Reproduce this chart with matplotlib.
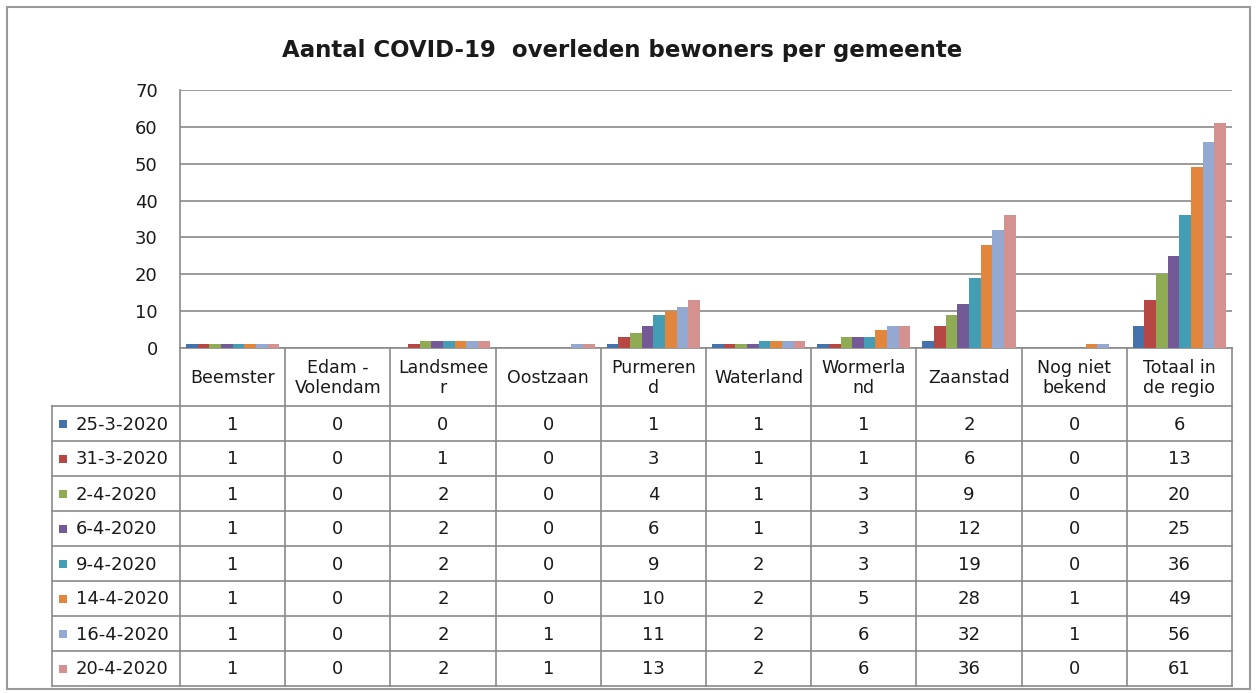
import matplotlib

matplotlib.use("Agg")
import matplotlib.pyplot as plt
from matplotlib.patches import Rectangle

W, H, DPI = 1257, 693, 100

gemeenten = ["Beemster", "Edam -\nVolendam", "Landsmee\nr", "Oostzaan", "Purmeren\nd",
             "Waterland", "Wormerla\nnd", "Zaanstad", "Nog niet\nbekend", "Totaal in\nde regio"]
datums = ["25-3-2020", "31-3-2020", "2-4-2020", "6-4-2020", "9-4-2020", "14-4-2020", "16-4-2020", "20-4-2020"]

d_25_3 = [1, 0, 0, 0, 1, 1, 1, 2, 0, 6]
d_31_3 = [1, 0, 1, 0, 3, 1, 1, 6, 0, 13]
d_02_4 = [1, 0, 2, 0, 4, 1, 3, 9, 0, 20]
d_06_4 = [1, 0, 2, 0, 6, 1, 3, 12, 0, 25]
d_09_4 = [1, 0, 2, 0, 9, 2, 3, 19, 0, 36]
d_14_4 = [1, 0, 2, 0, 10, 2, 5, 28, 1, 49]
d_16_4 = [1, 0, 2, 1, 11, 2, 6, 32, 1, 56]
d_20_4 = [1, 0, 2, 1, 13, 2, 6, 36, 0, 61]
series = [d_25_3, d_31_3, d_02_4, d_06_4, d_09_4, d_14_4, d_16_4, d_20_4]

COLORS = ["#4372ac", "#b64744", "#8fab54", "#735a96", "#429db5", "#e2853d", "#93a9d2", "#d59190"]
GRID = "#8a8a8a"
INK = "#1a1a1a"
FONT = "DejaVu Sans"

# pixel layout of the Excel chart
PL, PR, PT, PB = 180, 1232, 90, 348
TL = 52
HDR = 406
ROW = 35
colw = (PR - PL) / len(gemeenten)

fig = plt.figure(figsize=(W / DPI, H / DPI), dpi=DPI)
fig.patch.set_facecolor("white")

# bars
ax = fig.add_axes([PL / W, 1 - PB / H, (PR - PL) / W, (PB - PT) / H])
n = len(series)
group = 0.885
bw = group / n
for i, vals in enumerate(series):
    xs = [k - group / 2 + (i + 0.5) * bw for k in range(len(vals))]
    ax.bar(xs, vals, width=bw, color=COLORS[i], zorder=3, linewidth=0)
ax.set_xlim(-0.5, len(gemeenten) - 0.5)
ax.set_ylim(0, 70)
ax.set_yticks(range(0, 71, 10))
ax.set_xticks([])
ax.tick_params(axis="y", length=0, pad=16, labelsize=13, labelcolor=INK)
for lab in ax.get_yticklabels():
    lab.set_fontfamily(FONT)
ax.yaxis.grid(True, color=GRID, lw=1.2, zorder=0)
for s in ("top", "right", "bottom"):
    ax.spines[s].set_visible(False)
ax.spines["left"].set_color(GRID)
ax.spines["left"].set_linewidth(1.2)
ax.set_facecolor("none")

# overlay in pixel coordinates: frame, title, data table
ov = fig.add_axes([0, 0, 1, 1], zorder=-1)
ov.set_xlim(0, W)
ov.set_ylim(H, 0)
ov.axis("off")
ov.add_patch(Rectangle((7, 7), W - 14, H - 11, fill=False, edgecolor="#9a9a9a", lw=1.5))
ov.text(622, 50, "Aantal COVID-19  overleden bewoners per gemeente", ha="center", va="center",
        fontsize=16.5, weight="bold", family=FONT, color=INK)

bottom = HDR + ROW * len(datums)
lw = 1.2
ov.plot([PL, PR], [PB, PB], color=GRID, lw=lw)
ov.plot([TL, PR], [HDR, HDR], color=GRID, lw=lw)
for j in range(len(datums)):
    y = HDR + (j + 1) * ROW
    ov.plot([TL, PR], [y, y], color=GRID, lw=lw)
ov.plot([TL, TL], [HDR, bottom], color=GRID, lw=lw)
for k in range(len(gemeenten) + 1):
    x = PL + k * colw
    ov.plot([x, x], [PB, bottom], color=GRID, lw=lw)

for k, name in enumerate(gemeenten):
    ov.text(PL + (k + 0.5) * colw, (PB + HDR) / 2 + 1, name, ha="center", va="center",
            fontsize=12.5, family=FONT, linespacing=1.15, color=INK)

for j, (d, vals) in enumerate(zip(datums, series)):
    yc = HDR + (j + 0.5) * ROW
    ov.add_patch(Rectangle((59, yc - 4), 8, 8, facecolor=COLORS[j], edgecolor="none"))
    ov.text(76, yc + 1, d, ha="left", va="center", fontsize=13, family=FONT, color=INK)
    for k, v in enumerate(vals):
        ov.text(PL + (k + 0.5) * colw, yc + 1, str(v), ha="center", va="center", fontsize=13,
                family=FONT, color=INK)

fig.savefig("out.png", dpi=DPI)
